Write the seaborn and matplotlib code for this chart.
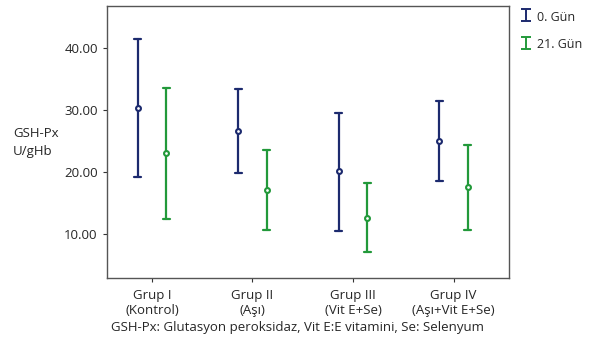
import numpy as np
import pandas as pd
import matplotlib
matplotlib.use("Agg")
import matplotlib.pyplot as plt
import seaborn as sns

# group labels and the two measurement days
groups = ['Grup I\n(Kontrol)', 'Grup II\n(Aşı)', 'Grup III\n(Vit E+Se)', 'Grup IV\n(Aşı+Vit E+Se)']
days = ['0. Gün', '21. Gün']

# mean and error bar ends (GSH-Px, U/gHb)
mean_d0 = [30.3, 26.6, 20.1, 25.0]
low_d0 = [19.2, 19.8, 10.5, 18.5]
high_d0 = [41.4, 33.4, 29.6, 31.5]

mean_d21 = [23.0, 17.1, 12.6, 17.6]
low_d21 = [12.4, 10.7, 7.1, 10.7]
high_d21 = [33.5, 23.6, 18.2, 24.4]

colors = ['#1c2a6e', '#22993a']

# long table: low / mean / high per cell, median = mean, full range = bar
rows = []
for i, g in enumerate(groups):
    for d, lo, m, hi in [(days[0], low_d0, mean_d0, high_d0), (days[1], low_d21, mean_d21, high_d21)]:
        for v in (lo[i], m[i], hi[i]):
            rows.append({'grup': g, 'gun': d, 'val': v})
df = pd.DataFrame(rows)

sns.set_style('white')
plt.rcParams['font.family'] = ['Open Sans', 'DejaVu Sans']

fig = plt.figure(figsize=(5.93, 3.43), dpi=100)
ax = fig.add_axes([0.180, 0.19, 0.678, 0.7925])

sns.pointplot(data=df, x='grup', y='val', hue='gun', order=groups, hue_order=days,
              estimator=np.median, errorbar=('pi', 100), dodge=0.28,
              palette=colors, linestyle='none', markers='o', markersize=3.5,
              capsize=0.07, err_kws={'linewidth': 1.6}, ax=ax, legend=False)

for ln in ax.lines:
    if ln.get_marker() not in (None, 'None', '', ' '):
        ln.set_markerfacecolor('white')
        ln.set_markeredgewidth(1.5)
        ln.set_zorder(5)

ax.set_ylim(2.9, 46.8)
ax.set_xlim(-0.45, 3.55)
ax.set_yticks([10, 20, 30, 40])
ax.set_yticklabels(['10.00', '20.00', '30.00', '40.00'])
ax.set_xlabel('')
ax.set_ylabel('')
ax.tick_params(axis='both', length=3, width=0.8, color='#333333', labelsize=9.5,
               direction='out', left=True, bottom=True)
ax.tick_params(axis='x', pad=5)
for sp in ax.spines.values():
    sp.set_color('#555555')
    sp.set_linewidth(1.0)

fig.text(0.022, 0.585, 'GSH-Px\nU/gHb', fontsize=9.5, ha='left', va='center', linespacing=1.5)
fig.text(0.187, 0.035, 'GSH-Px: Glutasyon peroksidaz, Vit E:E vitamini, Se: Selenyum', fontsize=9.5)

# error-bar shaped legend keys (empty containers, nothing drawn)
handles = [ax.errorbar([np.nan], [np.nan], yerr=[1], fmt='none', ecolor=c,
                       elinewidth=1.4, capsize=3.5, capthick=1.4) for c in colors]
fig.legend(handles, days, loc='upper left', bbox_to_anchor=(0.857, 1.005), frameon=False,
           fontsize=9, handletextpad=0.4, labelspacing=1.1, handlelength=1.0,
           handleheight=1.3)

fig.savefig('out.png', dpi=100)
